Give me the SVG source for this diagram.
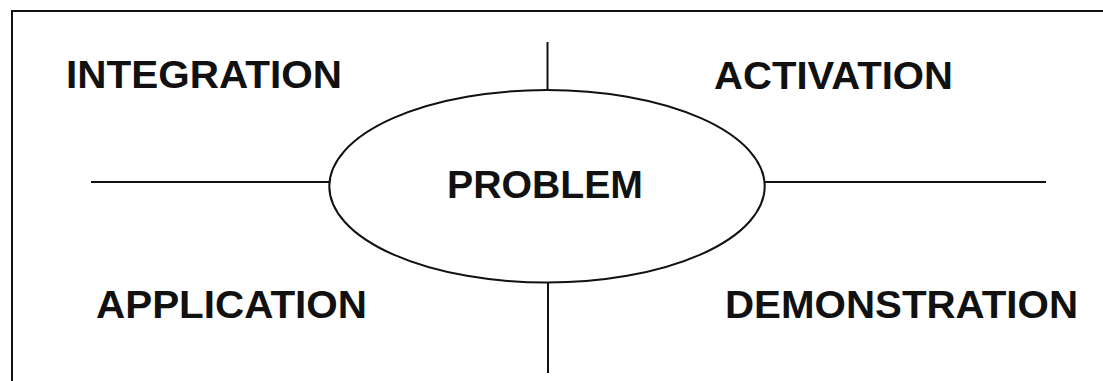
<svg xmlns="http://www.w3.org/2000/svg" width="1103" height="381" viewBox="0 0 1103 381">
  <style>
    .ln { stroke: #111; stroke-width: 2; fill: none; }
    .lbl { font-family: "Liberation Sans", Arial, sans-serif; font-weight: bold; font-size: 39px; fill: #111; }
  </style>
  <rect x="0" y="0" width="1103" height="381" fill="#fff"/>
  <path class="ln" d="M12,381 V11 H1103"/>
  <g id="connectors">
    <line class="ln" x1="547.5" y1="42" x2="547.5" y2="90"/>
    <line class="ln" x1="548" y1="283" x2="548" y2="373"/>
    <line class="ln" x1="91" y1="182" x2="329" y2="182"/>
    <line class="ln" x1="765" y1="182" x2="1046" y2="182"/>
  </g>
  <g id="problem">
    <ellipse class="ln" cx="547" cy="186.3" rx="217.7" ry="96.3"/>
    <text class="lbl" x="447" y="198" textLength="196" lengthAdjust="spacingAndGlyphs">PROBLEM</text>
  </g>
  <g id="integration">
    <text class="lbl" x="66" y="87.5" textLength="276" lengthAdjust="spacingAndGlyphs">INTEGRATION</text>
  </g>
  <g id="activation">
    <text class="lbl" x="714" y="89" textLength="239" lengthAdjust="spacingAndGlyphs">ACTIVATION</text>
  </g>
  <g id="application">
    <text class="lbl" x="96" y="318" textLength="271" lengthAdjust="spacingAndGlyphs">APPLICATION</text>
  </g>
  <g id="demonstration">
    <text class="lbl" x="725" y="318" textLength="353" lengthAdjust="spacingAndGlyphs">DEMONSTRATION</text>
  </g>
</svg>
